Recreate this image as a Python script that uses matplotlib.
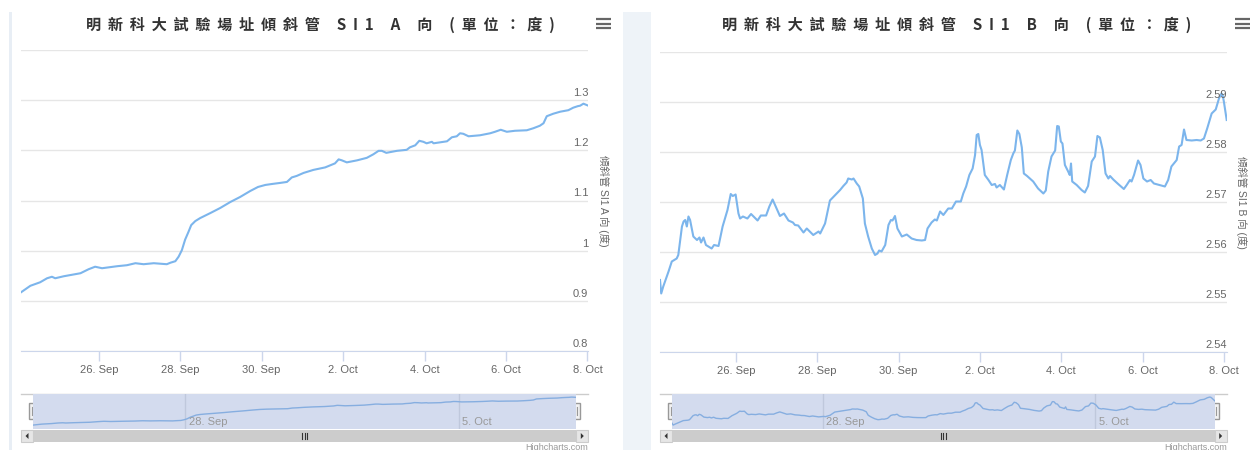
import pandas as pd
import matplotlib.pyplot as plt
import matplotlib.dates as mdates
from matplotlib.patches import Rectangle, Polygon

plt.rcParams['font.family'] = ['Liberation Sans', 'Noto Sans CJK TC', 'DejaVu Sans']

start = pd.Timestamp('2017-09-24')

# days after 24 Sep 00:00 and the readings (degrees)
a_days = [0.09, 0.32, 0.56, 0.73, 0.85, 0.93, 1.14, 1.55, 1.75, 1.91, 2.08, 2.45, 2.69, 2.90, 3.10,
          3.35, 3.67, 3.76, 3.88, 3.96, 4.04, 4.12, 4.20, 4.27, 4.37, 4.49, 4.74, 4.98, 5.23, 5.47,
          5.72, 5.91, 6.09, 6.26, 6.45, 6.62, 6.74, 6.86, 7.03, 7.27, 7.56, 7.80, 7.89, 7.97, 8.09,
          8.34, 8.58, 8.74, 8.87, 8.95, 9.06, 9.32, 9.56, 9.64, 9.77, 9.87, 9.97, 10.05, 10.18, 10.22,
          10.55, 10.67, 10.79, 10.87, 10.95, 11.08, 11.36, 11.61, 11.73, 11.87, 12.02, 12.22, 12.51,
          12.67, 12.83, 12.92, 13.00, 13.16, 13.33, 13.53, 13.65, 13.76, 13.82, 13.90, 14.02]
a_vals = [0.917, 0.930, 0.937, 0.945, 0.948, 0.945, 0.949, 0.955, 0.963, 0.968, 0.965, 0.969, 0.971,
          0.975, 0.973, 0.975, 0.973, 0.976, 0.979, 0.988, 1.001, 1.022, 1.037, 1.051, 1.059, 1.065,
          1.075, 1.085, 1.097, 1.107, 1.119, 1.127, 1.131, 1.133, 1.135, 1.137, 1.146, 1.149, 1.155,
          1.161, 1.166, 1.174, 1.182, 1.180, 1.176, 1.180, 1.185, 1.192, 1.199, 1.199, 1.195, 1.199,
          1.201, 1.206, 1.210, 1.219, 1.217, 1.214, 1.217, 1.214, 1.218, 1.226, 1.228, 1.234, 1.233,
          1.228, 1.230, 1.234, 1.237, 1.241, 1.237, 1.239, 1.240, 1.244, 1.249, 1.254, 1.268, 1.273,
          1.277, 1.280, 1.285, 1.288, 1.289, 1.293, 1.289]

b_days = [0.13, 0.16, 0.21, 0.34, 0.42, 0.54, 0.58, 0.67, 0.71, 0.75,
          0.79, 0.83, 0.87, 0.95, 1.04, 1.10, 1.14, 1.20, 1.26, 1.40,
          1.46, 1.57, 1.67, 1.79, 1.87, 1.92, 1.99, 2.06, 2.10, 2.17,
          2.28, 2.37, 2.53, 2.61, 2.74, 2.82, 2.90, 2.96, 3.08, 3.18,
          3.29, 3.40, 3.45, 3.53, 3.66, 3.74, 3.90, 4.03, 4.07, 4.19,
          4.31, 4.44, 4.56, 4.64, 4.72, 4.76, 4.85, 4.89, 4.97, 5.03,
          5.12, 5.17, 5.25, 5.34, 5.42, 5.48, 5.52, 5.58, 5.67, 5.75,
          5.81, 5.85, 5.91, 5.97, 6.08, 6.20, 6.32, 6.44, 6.57, 6.65,
          6.71, 6.81, 6.89, 6.94, 7.02, 7.10, 7.22, 7.31, 7.41, 7.53,
          7.59, 7.66, 7.74, 7.82, 7.88, 7.92, 7.96, 8.00, 8.04, 8.12,
          8.21, 8.29, 8.37, 8.41, 8.49, 8.59, 8.67, 8.76, 8.82, 8.86,
          8.92, 8.97, 9.03, 9.08, 9.16, 9.31, 9.43, 9.56, 9.62, 9.68,
          9.76, 9.85, 9.90, 9.94, 9.99, 10.03, 10.09, 10.17, 10.21, 10.24,
          10.27, 10.38, 10.50, 10.58, 10.66, 10.75, 10.83, 10.89, 10.95, 11.02,
          11.09, 11.16, 11.20, 11.28, 11.40, 11.54, 11.61, 11.69, 11.73, 11.79,
          11.89, 11.95, 12.02, 12.11, 12.20, 12.28, 12.41, 12.55, 12.63, 12.71,
          12.84, 12.90, 12.96, 13.02, 13.08, 13.21, 13.33, 13.43, 13.51, 13.59,
          13.70, 13.80, 13.88, 13.94, 13.97, 14.00, 14.07]
b_vals = [2.5544, 2.5517, 2.5531, 2.5561, 2.5581, 2.5587, 2.5594, 2.5651, 2.5661, 2.5664,
          2.5651, 2.5671, 2.5664, 2.5631, 2.5624, 2.5629, 2.5619, 2.5629, 2.5614, 2.5607,
          2.5614, 2.5612, 2.5651, 2.5684, 2.5716, 2.5712, 2.5715, 2.5677, 2.5667, 2.5671,
          2.5667, 2.5676, 2.5663, 2.5673, 2.5673, 2.5691, 2.5705, 2.5694, 2.5672, 2.5677,
          2.5663, 2.5659, 2.5654, 2.5653, 2.5639, 2.5647, 2.5634, 2.5641, 2.5637, 2.5657,
          2.5703, 2.5714, 2.5724, 2.5732, 2.5739, 2.5747, 2.5745, 2.5747, 2.5737, 2.5731,
          2.5707, 2.5657, 2.5631, 2.5607, 2.5594, 2.5597, 2.5603, 2.5601, 2.5614, 2.5654,
          2.5664, 2.5663, 2.5672, 2.5647, 2.5631, 2.5635, 2.5627, 2.5624, 2.5623, 2.5624,
          2.5647, 2.5659, 2.5665, 2.5663, 2.5681, 2.5674, 2.5687, 2.5687, 2.5701, 2.5701,
          2.5717, 2.5731, 2.5754, 2.5767, 2.5794, 2.5834, 2.5836, 2.5814, 2.5804, 2.5754,
          2.5744, 2.5734, 2.5736, 2.5729, 2.5734, 2.5725, 2.5754, 2.5784, 2.5797, 2.5803,
          2.5843, 2.5836, 2.5809, 2.5757, 2.5752, 2.5741, 2.5727, 2.5717, 2.5723, 2.5761,
          2.5791, 2.5803, 2.5852, 2.5851, 2.5821, 2.5817, 2.5774, 2.5761, 2.5754, 2.5777,
          2.5741, 2.5734, 2.5724, 2.5719, 2.5732, 2.5781, 2.5791, 2.5832, 2.5829, 2.5804,
          2.5757, 2.5747, 2.5752, 2.5745, 2.5736, 2.5726, 2.5734, 2.5744, 2.5741, 2.5754,
          2.5783, 2.5774, 2.5747, 2.5741, 2.5744, 2.5737, 2.5734, 2.5731, 2.5744, 2.5771,
          2.5784, 2.5811, 2.5814, 2.5845, 2.5824, 2.5823, 2.5824, 2.5823, 2.5827, 2.5847,
          2.5877, 2.5885, 2.5907, 2.5917, 2.5914, 2.5901, 2.5864]

a_ticks = [0.8, 0.9, 1.0, 1.1, 1.2, 1.3]
a_tick_labels = ['0.8', '0.9', '1', '1.1', '1.2', '1.3']
b_ticks = [2.54, 2.55, 2.56, 2.57, 2.58, 2.59]
b_tick_labels = ['2.54', '2.55', '2.56', '2.57', '2.58', '2.59']
date_ticks = ['2017-09-26', '2017-09-28', '2017-09-30', '2017-10-02', '2017-10-04', '2017-10-06', '2017-10-08']
nav_ticks = ['2017-09-28', '2017-10-05']

title_a = '明新科大試驗場址傾斜管 SI1 A 向 (單位：度)'
title_b = '明新科大試驗場址傾斜管 SI1 B 向 (單位：度)'
ytitle_a = '傾斜管 SI1 A 向 (度)'
ytitle_b = '傾斜管 SI1 B 向 (度)'

W, H = 1259, 450
fig = plt.figure(figsize=(W / 100, H / 100), dpi=100)
fig.patch.set_facecolor('white')


def rect(x0, y0, x1, y1):
    return [x0 / W, 1 - y1 / H, (x1 - x0) / W, (y1 - y0) / H]


bg = fig.add_axes([0, 0, 1, 1])
bg.set_xlim(0, W)
bg.set_ylim(H, 0)
bg.axis('off')
bg.add_patch(Rectangle((9, 12), 3.5, H - 12, color='#e8eef5', lw=0))
bg.add_patch(Rectangle((623, 12), 28, H - 12, color='#eef3f8', lw=0))

line_color = '#7cb5ec'
label_color = '#666666'


def fmt(d):
    return f'{d.day}. {d:%b}'


def panel(x0, x1, y0, y1, days, vals, ticks, labels, ylo, yhi, title, title_x, ytitle):
    t = start + pd.to_timedelta(days, unit='D')
    ax = fig.add_axes(rect(x0, y0, x1, y1))
    ax.plot(t, vals, color=line_color, lw=1.5)
    ax.set_xlim(t[0], t[-1])
    ax.set_ylim(ylo, yhi)
    ax.set_yticks(ticks + [yhi])
    ax.tick_params(axis='y', length=0, labelleft=False)
    ax.grid(axis='y', color='#e6e6e6', lw=1)
    for s in ['top', 'left', 'right']:
        ax.spines[s].set_visible(False)
    ax.spines['bottom'].set_color('#ccd6eb')
    dt = pd.to_datetime(date_ticks)
    ax.set_xticks(dt)
    ax.set_xticklabels([fmt(d) for d in dt])
    ax.tick_params(axis='x', colors='#ccd6eb', labelcolor=label_color, length=7, width=1,
                   labelsize=8, pad=3)
    for v, lab in zip(ticks, labels):
        ax.annotate(lab, (1, v), xycoords=ax.get_yaxis_transform(), xytext=(0, 1.5),
                    textcoords='offset points', ha='right', va='bottom', color=label_color, fontsize=8)

    # titles and menu icon
    spaced = '  '.join(list(title))
    bg.text(title_x, 25, spaced, ha='center', va='center', fontsize=10.9, color='#333333',
            family=['Noto Sans CJK TC'], weight='bold')
    bg.text(x1 + 15, (y0 + y1) / 2, ytitle, rotation=-90, ha='center', va='center',
            fontsize=7.5, color=label_color)
    for yy in (19, 23.5, 28):
        bg.plot([x1 + 8, x1 + 23], [yy, yy], color='#666666', lw=1.6, solid_capstyle='butt')

    # navigator
    nx0, nx1, ny0, ny1 = x0 + 12, x1 - 12, 394, 429
    nav = fig.add_axes(rect(nx0, ny0, nx1, ny1))
    nav.set_facecolor('#d3dbee')
    nd = pd.to_datetime(nav_ticks)
    for d in nd:
        xn = mdates.date2num(d)
        nav.axvline(xn, color='#bfc8dc', lw=1)
        nav.annotate(fmt(d), (xn, 0), xycoords=nav.get_xaxis_transform(), xytext=(2.5, 1.5),
                     textcoords='offset points', ha='left', va='bottom', color='#999999', fontsize=8)
    nav.plot(t, vals, color='#86aee0', lw=1)
    span = max(vals) - min(vals)
    nav.set_ylim(min(vals) - span * 0.14, max(vals) + span * 0.11)
    nav.set_xlim(t[0], t[-1])
    nav.set_xticks([])
    nav.set_yticks([])
    for s in nav.spines.values():
        s.set_visible(False)

    bg.plot([x0, x1], [ny0, ny0], color='#cccccc', lw=1)
    for hx in (nx0, nx1):
        bg.add_patch(Rectangle((hx - 4, 403), 8, 16, fc='#f2f2f2', ec='#999999', lw=1, zorder=5))
        for dx in (-1.2, 1.2):
            bg.plot([hx + dx, hx + dx], [407, 415], color='#999999', lw=0.8, zorder=6)

    # scrollbar
    bg.add_patch(Rectangle((x0, 430), x1 - x0, 12, fc='#f2f2f2', lw=0))
    bg.add_patch(Rectangle((nx0, 430), nx1 - nx0, 12, fc='#cccccc', lw=0))
    bg.add_patch(Rectangle((x0, 430), 12, 12, fc='#e6e6e6', ec='#cccccc', lw=0.8))
    bg.add_patch(Rectangle((x1 - 12, 430), 12, 12, fc='#e6e6e6', ec='#cccccc', lw=0.8))
    bg.add_patch(Polygon([[x0 + 7.5, 433], [x0 + 7.5, 439], [x0 + 4.5, 436]], color='#333333', lw=0))
    bg.add_patch(Polygon([[x1 - 7.5, 433], [x1 - 7.5, 439], [x1 - 4.5, 436]], color='#333333', lw=0))
    cx = (x0 + x1) / 2
    for dx in (-2.5, 0, 2.5):
        bg.plot([cx + dx, cx + dx], [433, 439], color='#333333', lw=0.8)

    bg.text(x1, 448, 'Highcharts.com', ha='right', va='center', fontsize=6.5, color='#999999')
    return ax


panel(21, 588.3, 50, 351, a_days, a_vals, a_ticks, a_tick_labels, 0.8, 1.4, title_a, 320, ytitle_a)
panel(660, 1226.7, 52, 352, b_days, b_vals, b_ticks, b_tick_labels, 2.54, 2.60, title_b, 957, ytitle_b)

fig.savefig('out.png', dpi=100, facecolor='white')
